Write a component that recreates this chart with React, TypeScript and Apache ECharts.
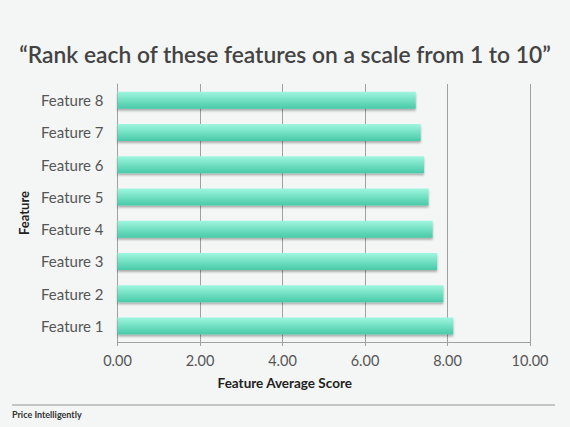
import { useEffect, useRef } from 'react'
import * as echarts from 'echarts'

const features = ['Feature 1', 'Feature 2', 'Feature 3', 'Feature 4', 'Feature 5', 'Feature 6', 'Feature 7', 'Feature 8']
const scores = [8.14, 7.9, 7.75, 7.64, 7.54, 7.43, 7.35, 7.23]

const FONT = 'Lato, "Open Sans", sans-serif'

export default function App() {
  const chartRef = useRef<HTMLDivElement>(null)

  useEffect(() => {
    if (!chartRef.current) return
    document.body.style.margin = '0'
    const chart = echarts.init(chartRef.current, undefined, { renderer: 'svg' })

    const option = {
      animation: false,
      backgroundColor: '#f4f5f5',
      textStyle: { fontFamily: FONT },
      title: {
        text: '“Rank each of these features on a scale from 1 to 10”',
        left: 'center',
        top: 37,
        textStyle: { fontFamily: FONT, fontSize: 22.8, fontWeight: 600, color: '#434343' }
      },
      grid: { left: 117.5, right: 40, top: 84, bottom: 85 },
      xAxis: {
        type: 'value',
        min: 0,
        max: 10,
        interval: 2,
        axisLine: { show: true, lineStyle: { color: '#a0a0a0', width: 1 } },
        axisTick: { show: true, length: 4, lineStyle: { color: '#a0a0a0' } },
        splitLine: { show: true, lineStyle: { color: '#a0a0a0', width: 1 } },
        axisLabel: {
          formatter: (v: number) => v.toFixed(2),
          fontFamily: FONT,
          fontSize: 14.5,
          color: '#555',
          margin: 11
        }
      },
      yAxis: {
        type: 'category',
        data: features,
        name: 'Feature',
        nameLocation: 'middle',
        nameGap: 86,
        nameTextStyle: { fontFamily: FONT, fontSize: 13, fontWeight: 'bold', color: '#222' },
        axisLine: { show: true, lineStyle: { color: '#a0a0a0' } },
        axisTick: { show: false },
        axisLabel: { fontFamily: FONT, fontSize: 15, color: '#555', margin: 14 }
      },
      graphic: [
        {
          type: 'text',
          left: 'center',
          top: 376,
          x: -2,
          style: {
            text: 'Feature Average Score',
            fontFamily: FONT,
            fontSize: 13.5,
            fontWeight: 'bold',
            fill: '#222'
          }
        },
        {
          type: 'line',
          shape: { x1: 12, y1: 405, x2: 555, y2: 405 },
          style: { stroke: '#b5b5b5', lineWidth: 1.5 }
        },
        {
          type: 'text',
          left: 12,
          top: 410,
          style: {
            text: 'Price Intelligently',
            fontFamily: FONT,
            fontSize: 9,
            fontWeight: 'bold',
            fill: '#333'
          }
        }
      ],
      series: [
        {
          type: 'bar',
          data: scores,
          barWidth: 17,
          itemStyle: {
            color: new echarts.graphic.LinearGradient(0, 0, 0, 1, [
              { offset: 0, color: '#9ff7df' },
              { offset: 1, color: '#48caa8' }
            ]),
            shadowColor: 'rgba(0,0,0,0.3)',
            shadowBlur: 2,
            shadowOffsetY: 2
          }
        }
      ]
    }

    chart.setOption(option)
    return () => {
      chart.dispose()
    }
  }, [])

  return <div ref={chartRef} style={{ position: 'absolute', left: 0, top: 0, width: 570, height: 427 }} />
}
